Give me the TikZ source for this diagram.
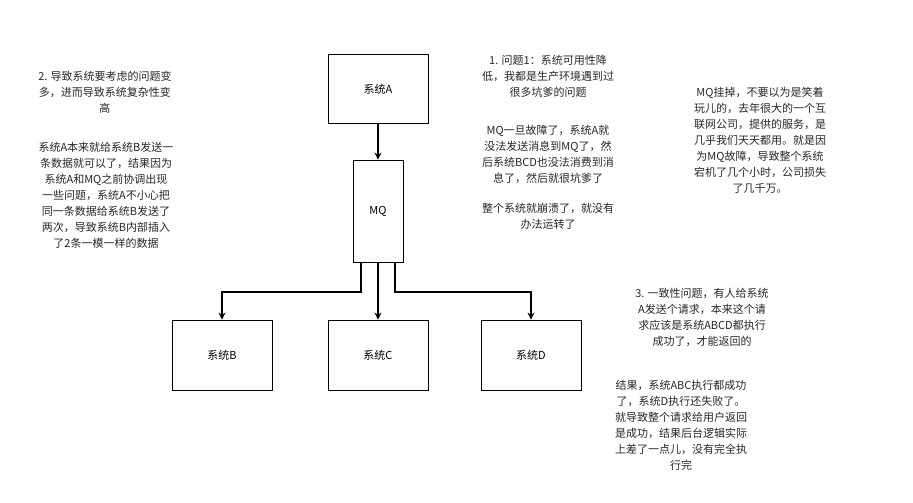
\documentclass[tikz,border=0pt]{standalone}
\usepackage{fontspec}
\setmainfont{Noto Sans CJK SC}
\usetikzlibrary{arrows.meta}
\tikzset{
  sysbox/.style={draw, fill=white, line width=0.8pt, minimum width=100pt, minimum height=69pt, font=\fontsize{11}{14}\selectfont},
  note/.style={align=center, font=\fontsize{11}{16}\selectfont, text=black!85, inner sep=0pt},
  link/.style={draw, line width=1.2pt, -{Stealth[length=7pt,width=7pt]}}
}
\begin{document}
\begin{tikzpicture}[x=1pt,y=-1pt]
  \useasboundingbox (0,0) rectangle (913,503);
  \node[sysbox] (a) at (378,89) {系统A};
  \node[sysbox, minimum width=50pt, minimum height=102pt] (mq) at (378,211) {MQ};
  \foreach \x/\name/\txt in {222/b/系统B, 378/c/系统C, 531/d/系统D}{
    \node[sysbox, minimum height=70pt] (\name) at (\x,355) {\txt};
  }
  \coordinate (mqb) at (361,262);
  \coordinate (mqd) at (395,262);
  \draw[link] (a) -- (mq);
  \draw[link] (mq) -- (c);
  \draw[link] (mqb) |- (222,292) -- (b);
  \draw[link] (mqd) |- (531,292) -- (d);
  % notes
  \node[note] (n2) at (105,92) {2. 导致系统要考虑的问题变\\多，进而导致系统复杂性变\\高};
  \node[note] (n2b) at (106,195) {系统A本来就给系统B发送一\\条数据就可以了，结果因为\\系统A和MQ之前协调出现\\一些问题，系统A不小心把\\同一条数据给系统B发送了\\两次，导致系统B内部插入\\了2条一模一样的数据};
  \node[note] (n1) at (548,76) {1. 问题1：系统可用性降\\低，我都是生产环境遇到过\\很多坑爹的问题};
  \node[note] (n1b) at (548,154) {MQ一旦故障了，系统A就\\没法发送消息到MQ了，然\\后系统BCD也没法消费到消\\息了，然后就很坑爹了};
  \node[note] (n1c) at (548,216) {整个系统就崩溃了，就没有\\办法运转了};
  \node[note] (n4) at (760,140) {MQ挂掉，不要以为是笑着\\玩儿的，去年很大的一个互\\联网公司，提供的服务，是\\几乎我们天天都用。就是因\\为MQ故障，导致整个系统\\宕机了几个小时，公司损失\\了几千万。};
  \node[note] (n3) at (702,317) {3. 一致性问题，有人给系统\\A发送个请求，本来这个请\\求应该是系统ABCD都执行\\成功了，才能返回的};
  \node[note] (n3b) at (681,425) {结果，系统ABC执行都成功\\了，系统D执行还失败了。\\就导致整个请求给用户返回\\是成功，结果后台逻辑实际\\上差了一点儿，没有完全执\\行完};
\end{tikzpicture}
\end{document}
